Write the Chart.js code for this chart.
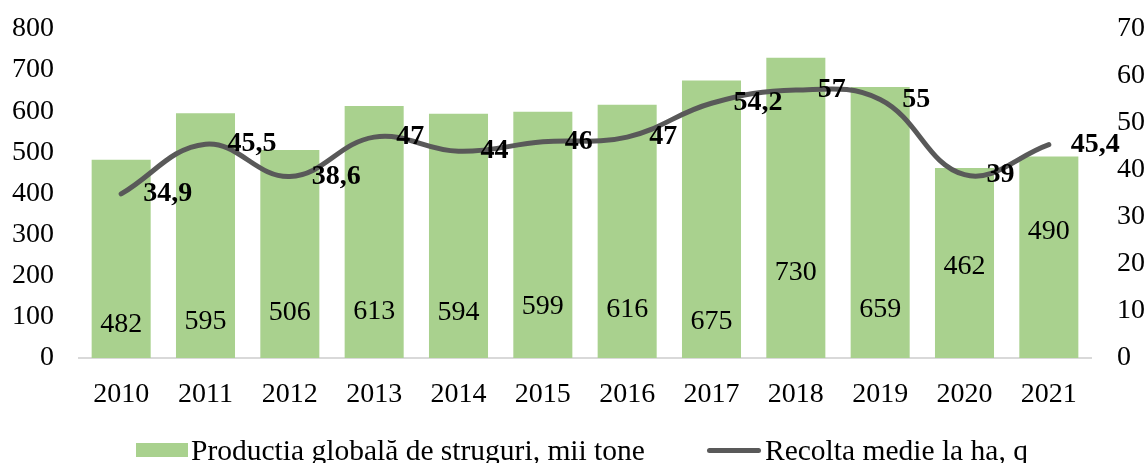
<!DOCTYPE html>
<html>
<head>
<meta charset="utf-8">
<script src="https://cdn.jsdelivr.net/npm/chart.js@4.4.1/dist/chart.umd.min.js"></script>
<style>
  html, body { margin: 0; padding: 0; background: #ffffff; }
  #wrap { position: relative; width: 1146px; height: 463px; overflow: hidden; }
  #c { position: absolute; left: 0; top: 0; }
  .leg { position: absolute; top: 432px; height: 36px; display: flex; align-items: center;
         font-family: 'Liberation Serif', 'Times New Roman', serif; font-size: 29.5px; color: #000; white-space: nowrap; }
  .sw-bar { width: 52px; height: 14px; background: #A9D18E; margin-right: 3px; }
  .sw-line { width: 54px; height: 5px; background: #595959; border-radius: 3px; margin-right: 4px; }
</style>
</head>
<body>
<div id="wrap">
  <canvas id="c" width="1146" height="463"></canvas>
  <div class="leg" style="left:136px;"><div class="sw-bar"></div><span id="lg1"></span></div>
  <div class="leg" style="left:707px;"><div class="sw-line"></div><span id="lg2"></span></div>
</div>
<script>
const years = ['2010','2011','2012','2013','2014','2015','2016','2017','2018','2019','2020','2021'];
const production = [482, 595, 506, 613, 594, 599, 616, 675, 730, 659, 462, 490];
const yieldPerHa = [34.9, 45.5, 38.6, 47, 44, 46, 47, 54.2, 57, 55, 39, 45.4];
const seriesNames = ['Productia globală de struguri, mii tone', 'Recolta medie la ha, q'];
const leftTicks = { min: 0, max: 800, step: 100 };
const rightTicks = { min: 0, max: 70, step: 10 };

document.getElementById('lg1').textContent = seriesNames[0];
document.getElementById('lg2').textContent = seriesNames[1];

const FONT = "'Liberation Serif', 'Times New Roman', serif";
// label anchor levels for bar value labels, in left-axis units (as placed in the original)
const barLabelLevels = [80, 88, 110, 112, 110, 124, 117, 88, 207, 117, 222, 307];

const labelPlugin = {
  id: 'valueLabels',
  afterDatasetsDraw(chart) {
    const ctx = chart.ctx;
    const yL = chart.scales.y;
    ctx.save();
    ctx.fillStyle = '#000';
    ctx.textBaseline = 'middle';
    ctx.font = "28px " + FONT;
    ctx.textAlign = 'center';
    chart.getDatasetMeta(0).data.forEach((el, i) => {
      ctx.fillText(String(production[i]), el.x, yL.getPixelForValue(barLabelLevels[i]));
    });
    ctx.font = "bold 28px " + FONT;
    ctx.textAlign = 'left';
    chart.getDatasetMeta(1).data.forEach((el, i) => {
      ctx.fillText(String(yieldPerHa[i]).replace('.', ','), el.x + 22, el.y);
    });
    ctx.restore();
  }
};

function fixVertical(width) {
  return function (s) { s.width = width; s.paddingTop = 0; s.paddingBottom = 0; };
}

new Chart(document.getElementById('c'), {
  type: 'bar',
  data: {
    labels: years,
    datasets: [
      {
        type: 'bar',
        label: seriesNames[0],
        data: production,
        backgroundColor: '#A9D18E',
        borderWidth: 0,
        categoryPercentage: 1,
        barPercentage: 0.7,
        yAxisID: 'y',
        order: 2
      },
      {
        type: 'line',
        label: seriesNames[1],
        data: yieldPerHa,
        borderColor: '#595959',
        borderWidth: 5,
        borderCapStyle: 'round',
        pointRadius: 0,
        tension: 0.4,
        fill: false,
        yAxisID: 'y1',
        order: 1
      }
    ]
  },
  options: {
    responsive: false,
    devicePixelRatio: 1,
    animation: false,
    layout: { padding: { top: 29, bottom: 55, left: 0, right: 0 } },
    plugins: { legend: { display: false }, tooltip: { enabled: false } },
    scales: {
      x: {
        grid: { display: false, drawTicks: false },
        border: { display: true, color: '#D9D9D9', width: 2 },
        ticks: { color: '#000', font: { family: FONT, size: 28 }, padding: 20, maxRotation: 0 },
        afterFit(s) { s.height = 50; }
      },
      y: {
        position: 'left',
        min: leftTicks.min, max: leftTicks.max,
        ticks: { stepSize: leftTicks.step, color: '#000', font: { family: FONT, size: 28 }, padding: 25 },
        grid: { display: false, drawTicks: false },
        border: { display: false },
        afterFit: fixVertical(79)
      },
      y1: {
        position: 'right',
        min: rightTicks.min, max: rightTicks.max,
        ticks: { stepSize: rightTicks.step, color: '#000', font: { family: FONT, size: 28 }, padding: 26 },
        grid: { display: false, drawTicks: false },
        border: { display: false },
        afterFit: fixVertical(55)
      }
    }
  },
  plugins: [labelPlugin]
});
</script>
</body>
</html>
